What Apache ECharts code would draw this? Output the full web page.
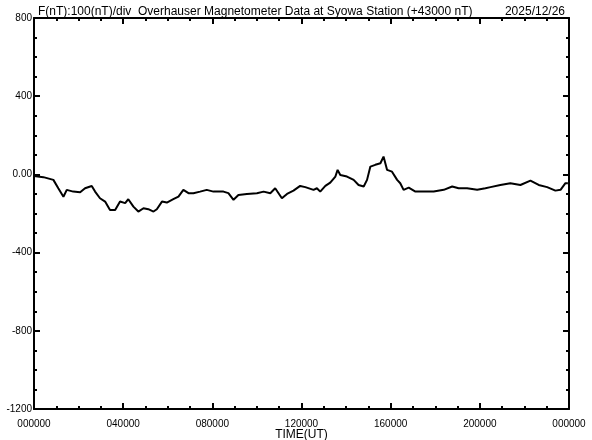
<!DOCTYPE html>
<html>
<head>
<meta charset="utf-8">
<script src="https://cdn.jsdelivr.net/npm/echarts@6/dist/echarts.min.js"></script>
<style>html,body{margin:0;padding:0;background:#fff}#c{width:592px;height:440px}</style>
</head>
<body>
<div id="c"></div>
<script>
// Time in hours (UT) and F deviation (nT, offset from 43000 nT)
const hours = [0,0.42,0.87,1.09,1.32,1.47,1.76,2.07,2.29,2.59,2.74,2.96,3.19,3.41,3.64,3.86,4.09,4.23,4.46,4.68,4.91,5.13,5.36,5.51,5.74,5.96,6.25,6.48,6.70,6.93,7.15,7.45,7.75,8.05,8.20,8.50,8.72,8.95,9.17,9.55,10.0,10.30,10.60,10.82,11.12,11.35,11.64,11.94,12.17,12.24,12.54,12.69,12.84,13.07,13.29,13.52,13.62,13.74,14.04,14.34,14.56,14.79,14.94,15.09,15.31,15.54,15.68,15.84,16.06,16.13,16.29,16.43,16.58,16.81,17.11,17.48,17.93,18.38,18.76,19.05,19.43,19.88,20.25,20.48,20.92,21.37,21.82,22.27,22.64,23.02,23.39,23.62,23.84,23.95];
const values = [-8,-14,-28,-71,-114,-79,-88,-91,-71,-59,-88,-122,-139,-182,-182,-139,-147,-127,-165,-190,-173,-178,-190,-178,-139,-144,-127,-114,-79,-96,-96,-88,-79,-88,-88,-88,-96,-130,-105,-100,-96,-88,-96,-71,-122,-100,-83,-59,-65,-71,-79,-71,-88,-59,-42,-11,23,-3,-11,-28,-54,-62,-28,40,49,57,91,23,14,14,-28,-45,-79,-68,-88,-88,-88,-79,-62,-71,-71,-79,-71,-65,-54,-45,-54,-32,-54,-65,-83,-79,-45,-45];
const xTickLabels = ["000000","040000","080000","120000","160000","200000","000000"];
const yMin = -1200, yMax = 800;
const titleText = "F(nT):100(nT)/div  Overhauser Magnetometer Data at Syowa Station (+43000 nT)";
const dateText = "2025/12/26";
const xAxisName = "TIME(UT)";

const chart = echarts.init(document.getElementById('c'), null, {renderer:'canvas'});
const FONT = 'Liberation Sans';
const axisLine = {show:true, onZero:false, lineStyle:{color:'#000', width:2}};
function xAx(pos, showLabel){
  return {
    type:'value', position:pos, min:0, max:24, interval:4,
    axisLine: axisLine,
    axisTick:{show:true, inside:true, length:6, lineStyle:{color:'#000', width:2}},
    minorTick:{show:true, splitNumber:4, length:3, lineStyle:{color:'#000', width:2}},
    splitLine:{show:false},
    axisLabel:{show:showLabel, margin:10, color:'#000', fontFamily:FONT, fontSize:10,
      formatter:function(v){ return xTickLabels[Math.round(v/4)]; }},
    name: showLabel ? xAxisName : '', nameLocation:'middle', nameGap:20, nameMoveOverlap:false,
    nameTextStyle:{color:'#000', fontFamily:FONT, fontSize:12, verticalAlign:'top'}
  };
}
function yAx(pos, showLabel){
  return {
    type:'value', position:pos, min:yMin, max:yMax, interval:400,
    axisLine: axisLine,
    axisTick:{show:true, inside:true, length:6, lineStyle:{color:'#000', width:2}},
    minorTick:{show:true, splitNumber:4, length:3, lineStyle:{color:'#000', width:2}},
    splitLine:{show:false},
    axisLabel:{show:showLabel, margin:2, color:'#000', fontFamily:FONT, fontSize:10,
      formatter:function(v){ return v===0 ? '0.00' : String(v); }}
  };
}
chart.setOption({
  animation:false,
  backgroundColor:'#fff',
  grid:{left:34, right:23, top:18, bottom:31, containLabel:false, outerBoundsMode:'none'},
  title:[
    {text:titleText, left:33, top:1, textStyle:{color:'#000', fontFamily:FONT, fontSize:12, fontWeight:'normal'}},
    {text:dateText, right:22, top:1, textStyle:{color:'#000', fontFamily:FONT, fontSize:12, fontWeight:'normal'}}
  ],
  xAxis:[xAx('bottom', true), xAx('top', false)],
  yAxis:[yAx('left', true), yAx('right', false)],
  series:[{
    type:'line', xAxisIndex:0, yAxisIndex:0,
    data: hours.map((h,i)=>[h, values[i]]),
    showSymbol:false, symbol:'none',
    lineStyle:{color:'#000', width:2},
    clip:true
  }]
});
</script>
</body>
</html>
